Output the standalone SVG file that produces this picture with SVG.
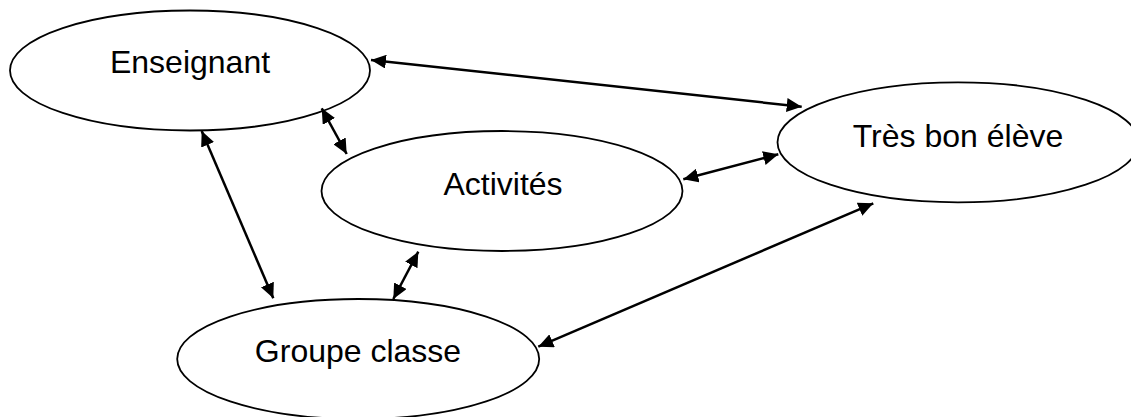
<svg xmlns="http://www.w3.org/2000/svg" width="1131" height="417" viewBox="0 0 1131 417">
<style>
.node ellipse{fill:#fff;stroke:#000;stroke-width:1.8}
.node text{font-family:"Liberation Sans",Arial,sans-serif;font-size:32px;fill:#000;text-anchor:middle}
.edge line{stroke:#000;stroke-width:2.5;marker-start:url(#ah);marker-end:url(#ah)}
</style>
<defs>
<marker id="ah" viewBox="0 0 15 14" refX="15" refY="7" markerWidth="15" markerHeight="14" markerUnits="userSpaceOnUse" orient="auto-start-reverse">
<path d="M0,0 L15,7 L0,14 z" fill="#000"/>
</marker>
</defs>
<rect width="1131" height="417" fill="#fff"/>
<g id="n-enseignant" class="node"><ellipse cx="190" cy="70.5" rx="180" ry="60"/><text x="190" y="73">Enseignant</text></g>
<g id="n-activites" class="node"><ellipse cx="502" cy="191" rx="180.5" ry="60"/><text x="503" y="195">Activités</text></g>
<g id="n-tres-bon-eleve" class="node"><ellipse cx="958" cy="142.3" rx="180.5" ry="60"/><text x="958" y="147">Très bon élève</text></g>
<g id="n-groupe-classe" class="node"><ellipse cx="358.2" cy="359" rx="181" ry="60"/><text x="358" y="362">Groupe classe</text></g>
<g id="connectors" class="edge">
<line x1="371" y1="60" x2="801.7" y2="106.7"/>
<line x1="321.7" y1="108.3" x2="346.7" y2="154"/>
<line x1="201.7" y1="131" x2="273.3" y2="298.3"/>
<line x1="683.3" y1="179.3" x2="778.3" y2="154.3"/>
<line x1="418.3" y1="251.7" x2="393.3" y2="299"/>
<line x1="538.3" y1="346.7" x2="873.3" y2="203.3"/>
</g>
</svg>
